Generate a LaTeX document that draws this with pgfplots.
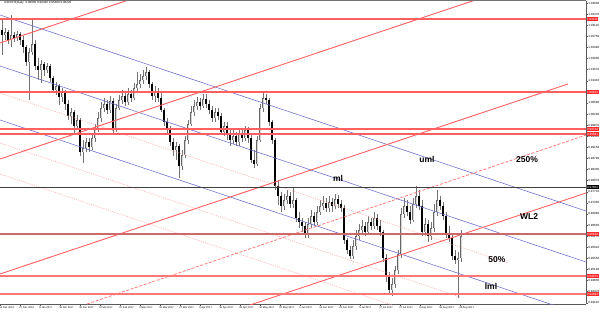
\documentclass[border=0pt]{standalone}
\usepackage{pgfplots}
\pgfplotsset{compat=1.18}
\usepackage{pgfplotstable}
\usepackage{fontspec}
\setmainfont{Liberation Sans}
\definecolor{hred}{RGB}{255,95,95}
\definecolor{dred}{RGB}{205,105,105}
\definecolor{fred}{RGB}{255,165,165}
\definecolor{dashred}{RGB}{255,125,125}
\definecolor{pblue}{RGB}{115,115,205}
\definecolor{boxred}{RGB}{255,40,40}
\definecolor{wick}{RGB}{115,115,115}
\definecolor{upfill}{RGB}{215,215,215}

% candles: x position, high, low, body top, body bottom (pixel rows, top = 1)
\pgfplotstableread{
x hi lo top bot
5 28 40 32 35
11 15 47 35 40
17 31 41 34 38
29 48 100 52 62
32 18 55 44 52
41 60 83 64 70
47 63 73 66 70
56 82 95 86 90
62 88 102 92 97
71 108 124 112 116
77 115 130 120 126
83 140 163 148 152
86 138 152 142 148
92 134 150 138 147
95 124 142 128 138
98 112 132 118 128
101 102 122 108 118
104 98 112 104 108
110 96 113 101 110
116 104 132 108 130
119 95 110 100 108
122 90 104 96 100
128 88 105 94 102
134 83 100 88 98
137 72 92 84 88
140 74 88 80 84
143 70 84 76 80
146 67 80 72 76
155 86 102 92 96
176 142 160 146 150
182 150 170 155 166
185 136 158 140 155
188 120 144 124 140
191 106 126 112 124
194 100 116 106 112
197 97 110 102 106
203 94 108 99 106
215 108 122 112 118
224 122 136 126 132
233 130 144 136 140
239 130 146 134 142
245 126 141 130 138
257 136 166 140 164
260 104 142 108 140
263 92 112 98 108
284 194 210 200 206
287 190 204 196 200
293 188 208 200 204
308 218 238 224 234
311 210 228 216 224
317 206 225 212 222
320 200 215 206 212
323 196 210 203 206
329 196 212 202 208
335 194 209 199 206
353 240 259 246 256
356 230 250 236 246
359 224 240 230 236
362 220 234 226 230
368 216 235 222 232
374 212 229 218 226
392 278 296 284 290
395 266 288 270 284
398 250 274 254 270
401 208 258 214 254
404 198 218 206 214
413 198 222 204 220
416 186 208 196 204
425 218 236 224 232
431 222 240 228 236
434 204 232 212 228
437 190 216 200 212
458 252 298 258 260
461 230 262 236 258
}\upc

\pgfplotstableread{
x hi lo top bot
2 20 55 30 35
8 30 44 32 40
14 32 42 35 38
20 32 45 34 40
23 36 53 40 47
26 45 66 47 62
35 40 70 44 66
38 58 80 66 70
44 62 76 64 70
50 64 82 66 78
53 76 93 78 90
59 84 105 86 97
65 90 110 92 104
68 100 120 104 116
74 110 133 112 126
80 118 156 120 152
89 138 152 142 147
107 100 114 104 110
113 98 134 101 130
125 92 106 96 102
131 90 102 94 98
149 70 88 72 84
152 82 100 84 96
158 88 102 92 98
161 92 112 98 110
164 108 126 110 122
167 118 133 122 128
170 126 146 128 142
173 138 156 142 150
179 144 178 146 166
200 98 110 102 106
206 94 108 99 104
209 100 114 104 110
212 106 122 110 118
218 108 120 112 116
221 113 135 116 132
227 122 140 126 134
230 130 146 134 140
236 132 146 136 142
242 128 142 134 138
248 127 143 130 138
251 134 163 138 160
254 150 168 160 164
266 94 104 98 100
269 98 126 100 122
272 120 144 122 140
275 138 190 140 186
278 180 205 186 196
281 192 212 196 206
290 192 208 196 204
296 198 222 200 218
299 212 228 218 222
302 218 232 222 226
305 222 238 226 234
314 212 226 216 222
326 198 212 203 208
332 198 212 202 206
338 195 208 199 204
341 200 212 204 208
344 205 244 208 240
347 238 254 240 250
350 246 259 250 256
365 222 236 226 232
371 218 230 222 226
377 214 230 218 226
380 220 236 226 232
383 230 262 232 258
386 254 282 258 276
389 272 294 276 290
407 200 216 206 212
410 206 224 212 220
419 190 210 196 206
422 200 236 206 232
428 220 242 224 236
440 196 210 200 206
443 202 220 206 216
446 212 238 216 234
449 226 242 234 238
452 234 260 238 256
455 250 264 256 260
}\downc

\pgfplotsset{
  candle/.style n args={2}{draw=none, mark=none, mark size=0pt, forget plot,
    error bars/.cd, y dir=plus, y explicit, error mark=none,
    error bar style={draw=#1, line width=#2, solid}},
}

\begin{document}
\begin{tikzpicture}
\useasboundingbox (0pt,0pt) rectangle (600pt,313pt);
\begin{axis}[
  at={(0pt,9pt)}, anchor=south west,
  width=586pt, height=303pt, scale only axis,
  xmin=0, xmax=586, ymin=1, ymax=304, y dir=reverse,
  axis x line=bottom, axis y line=right,
  axis line style={-, draw=black!65, line width=0.6pt},
  tick align=outside, major tick length=1.6pt,
  tick style={black!65, line width=0.4pt},
  xtick={0,20,...,460},
  xticklabels={14 Dec 2016,27 Dec 2016,6 Jan 2017,18 Jan 2017,30 Jan 2017,9 Feb 2017,21 Feb 2017,3 Mar 2017,15 Mar 2017,27 Mar 2017,6 Apr 2017,18 Apr 2017,28 Apr 2017,10 May 2017,22 May 2017,1 Jun 2017,13 Jun 2017,23 Jun 2017,5 Jul 2017,17 Jul 2017,27 Jul 2017,8 Aug 2017,18 Aug 2017,30 Aug 2017},
  xticklabel style={font=\fontsize{2.6}{3}\selectfont, anchor=north west, inner sep=0.3pt, xshift=-1.2pt, yshift=-0.4pt},
  ytick={3,14.1,25.2,36.3,47.4,58.5,69.6,80.7,91.8,102.9,114,125.1,136.2,147.3,158.4,169.5,180.6,191.7,202.8,213.9,225,236.1,247.2,258.3,269.4,280.5,291.6,302.7},
  yticklabels={1.03830,1.03470,1.03110,1.02750,1.02390,1.02030,1.01670,1.01310,1.00950,1.00590,1.00230,0.99870,0.99510,0.99150,0.98790,0.98430,0.98070,0.97710,0.97350,0.96990,0.96630,0.96270,0.95910,0.95550,0.95190,0.94830,0.94470,0.94110},
  yticklabel style={font=\fontsize{3}{3.5}\selectfont, anchor=west, inner sep=0.6pt},
]
% wicks
\addplot[candle={wick}{0.55pt}] table[x=x, y=hi, y error expr=\thisrow{lo}-\thisrow{hi}] {\upc};
\addplot[candle={wick}{0.55pt}] table[x=x, y=hi, y error expr=\thisrow{lo}-\thisrow{hi}] {\downc};
% bodies
\addplot[candle={black!60}{2pt}] table[x=x, y=top, y error expr=\thisrow{bot}-\thisrow{top}] {\upc};
\addplot[candle={upfill}{1pt}] table[x=x, y expr=\thisrow{top}+0.5, y error expr=\thisrow{bot}-\thisrow{top}-1] {\upc};
\addplot[candle={black}{2pt}] table[x=x, y=top, y error expr=\thisrow{bot}-\thisrow{top}] {\downc};

% faint dotted pitchfork lines
\addplot[fred, line width=0.5pt, dash pattern=on 1pt off 1pt] coordinates {(0,93) (508,263)};
\addplot[fred, line width=0.5pt, dash pattern=on 1pt off 1pt] coordinates {(0,143) (460,297)};
\addplot[fred, line width=0.5pt, dash pattern=on 1pt off 1pt] coordinates {(0,174) (392,305)};
% blue pitchfork lines
\addplot[pblue, line width=0.6pt] coordinates {(0,15) (586,211)};
\addplot[pblue, line width=0.6pt] coordinates {(0,66) (586,262)};
\addplot[pblue, line width=0.6pt] coordinates {(0,120) (586,316)};
% rising red lines
\addplot[hred, line width=0.9pt] coordinates {(0,43) (586,-153)};
\addplot[hred, line width=0.9pt] coordinates {(0,159) (586,-37)};
\addplot[hred, line width=0.9pt] coordinates {(0,274) (568,84)};
\addplot[hred, line width=0.9pt] coordinates {(250,305) (586,193)};
\addplot[dashred, line width=0.8pt, dash pattern=on 3pt off 1.6pt] coordinates {(87,304) (586,135)};
% horizontal levels
\addplot[hred, line width=1.1pt] coordinates {(0,19) (586,19)};
\addplot[hred, line width=1.1pt] coordinates {(0,92) (586,92)};
\addplot[hred, line width=1.1pt] coordinates {(0,129) (586,129)};
\addplot[hred, line width=1.1pt] coordinates {(0,134) (586,134)};
\addplot[black!75, line width=0.8pt] coordinates {(0,187) (586,187)};
\addplot[dred, line width=1.7pt] coordinates {(0,234) (586,234)};
\addplot[hred!85, line width=1.1pt] coordinates {(0,276) (586,276)};
\addplot[hred!85, line width=1.1pt] coordinates {(0,294) (586,294)};
\end{axis}
\draw[black!55, line width=0.8pt] (0pt,312.6pt) -- (586pt,312.6pt);
\node[anchor=north west, font=\fontsize{3}{3.5}\selectfont, inner sep=0pt] at (4pt,311.5pt) {USDCHF,Daily\ \ 0.96060 0.96440 0.95480 0.96226};
% price boxes
\tikzset{pbox/.style={fill=boxred, text=white, font=\fontsize{3}{3.5}\selectfont, inner sep=0.6pt, anchor=west}}
\node[pbox] at (586.3pt,294pt) {1.03311};
\node[pbox] at (586.3pt,221pt) {1.00944};
\node[pbox] at (586.3pt,184pt) {0.99744};
\node[pbox] at (586.3pt,179pt) {0.99581};
\node[pbox, fill=black] at (586.3pt,126pt) {0.97862};
\node[pbox] at (586.3pt,79pt) {0.96338};
\node[pbox] at (586.3pt,37pt) {0.94976};
\node[pbox] at (586.3pt,19pt) {0.94392};
% labels
\tikzset{lbl/.style={font=\bfseries\fontsize{8.5}{9}\selectfont, inner sep=0pt}}
\node[lbl] at (427pt,154pt) {uml};
\node[lbl] at (527pt,153pt) {250\%};
\node[lbl] at (338pt,135pt) {ml};
\node[lbl] at (529pt,96pt) {WL2};
\node[lbl] at (497pt,53pt) {50\%};
\node[lbl] at (491pt,27pt) {lml};
\end{tikzpicture}
\end{document}
